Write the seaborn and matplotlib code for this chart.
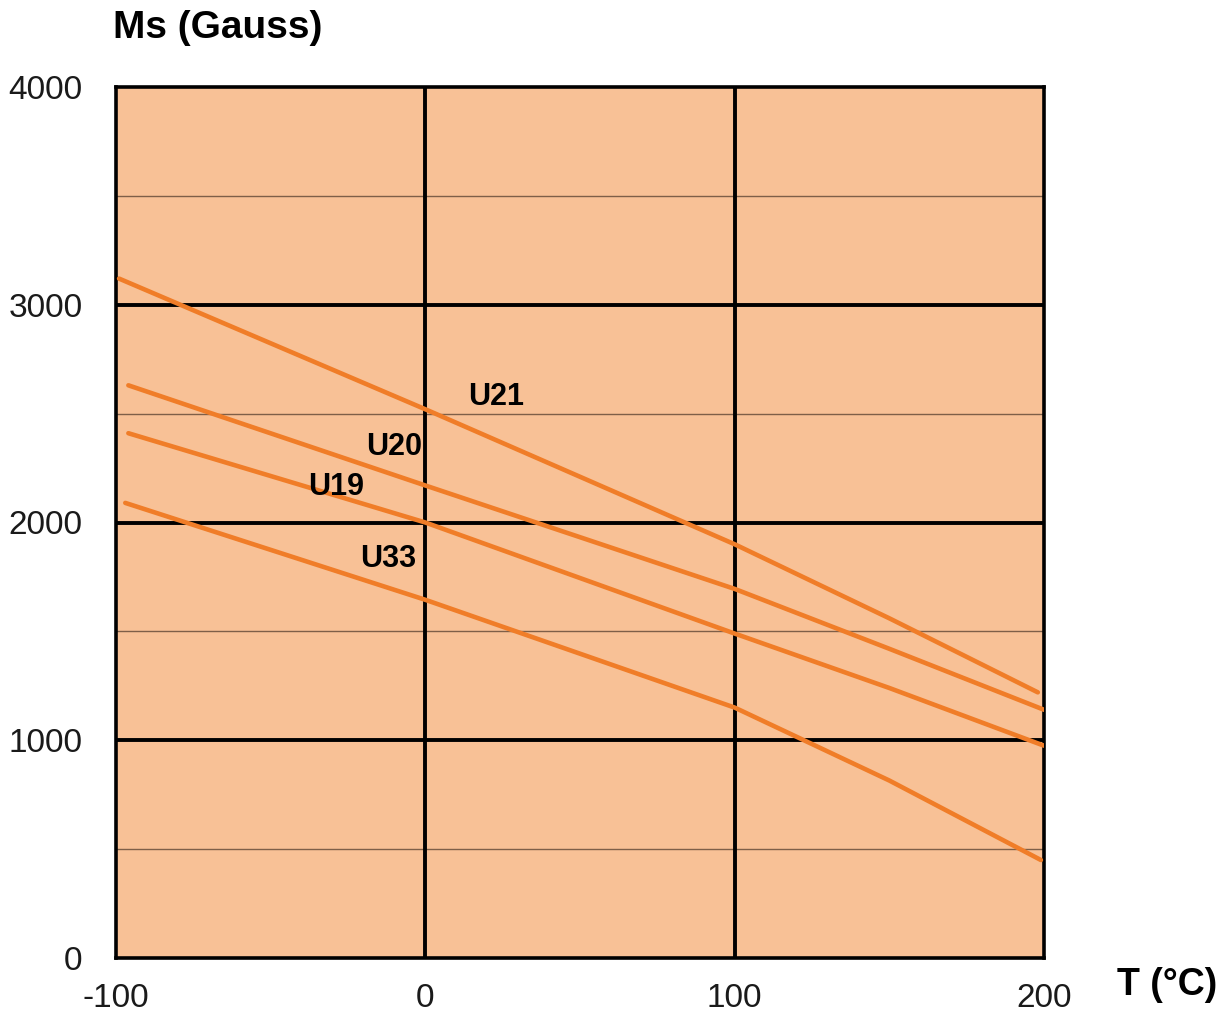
import pandas as pd
import numpy as np
import matplotlib
matplotlib.use("Agg")
import matplotlib.pyplot as plt
import seaborn as sns

# ── DONNÉES ─────────────────────────────────────────────
u21_t = [-99, 0, 100, 150, 198]
u21_ms = [3120, 2520, 1900, 1560, 1220]

u20_t = [-96, 0, 100, 150, 200]
u20_ms = [2630, 2170, 1695, 1420, 1140]

u19_t = [-96, 0, 100, 150, 200]
u19_ms = [2410, 2000, 1490, 1240, 975]

u33_t = [-97, 0, 100, 150, 199]
u33_ms = [2090, 1645, 1150, 815, 450]

label_names = ["U21", "U20", "U19", "U33"]
label_t = [23, -10, -29, -12]
label_ms = [2576, 2346, 2163, 1832]

x_ticks = [-100, 0, 100, 200]
y_ticks = [0, 1000, 2000, 3000, 4000]
y_minor = [500, 1500, 2500, 3500]

df = pd.concat([
    pd.DataFrame({"T": u21_t, "Ms": u21_ms, "grade": "U21"}),
    pd.DataFrame({"T": u20_t, "Ms": u20_ms, "grade": "U20"}),
    pd.DataFrame({"T": u19_t, "Ms": u19_ms, "grade": "U19"}),
    pd.DataFrame({"T": u33_t, "Ms": u33_ms, "grade": "U33"}),
])

BG = "#F8C196"
ORANGE = "#F07D28"

sns.set_style("white", {"axes.facecolor": BG})
plt.rcParams["font.family"] = ["Liberation Sans", "DejaVu Sans"]
plt.rcParams["axes.unicode_minus"] = False

fig = plt.figure(figsize=(12.27, 10.13), dpi=100)
ax = fig.add_axes([116 / 1227, 55 / 1013, 928 / 1227, 871 / 1013])

# grille secondaire fine
for v in y_minor:
    ax.axhline(v, color="#4a3628", linewidth=1.0, alpha=0.7, zorder=1)
# grille principale épaisse
for v in y_ticks[1:-1]:
    ax.axhline(v, color="black", linewidth=2.8, zorder=1.5)
for v in x_ticks[1:-1]:
    ax.axvline(v, color="black", linewidth=2.8, zorder=1.5)

sns.lineplot(
    data=df, x="T", y="Ms", hue="grade",
    palette=[ORANGE] * 4, linewidth=3.3, sort=False,
    legend=False, ax=ax, zorder=3
)

for name, t, m in zip(label_names, label_t, label_ms):
    ax.text(t, m, name, fontsize=22, fontweight="bold",
            ha="center", va="center", color="black", zorder=4)

ax.set_xlim(-100, 200)
ax.set_ylim(0, 4000)
ax.set_xticks(x_ticks)
ax.set_yticks(y_ticks)
ax.set_xlabel("")
ax.set_ylabel("")

for s in ax.spines.values():
    s.set_color("black")
    s.set_linewidth(2.6)

ax.tick_params(axis="both", direction="out", length=10, width=1.0,
               color="#555555", labelsize=24, labelcolor="#1a1a1a")
ax.tick_params(axis="y", pad=14)
ax.tick_params(axis="x", pad=8)

fig.text(113 / 1227, 1 - 28 / 1013, "Ms (Gauss)", fontsize=28,
         fontweight="bold", ha="left", va="center", color="black")
fig.text(1117 / 1227, 1 - 985 / 1013, "T (°C)", fontsize=27,
         fontweight="bold", ha="left", va="center", color="black")

fig.savefig("out.png", dpi=100)
plt.close(fig)
